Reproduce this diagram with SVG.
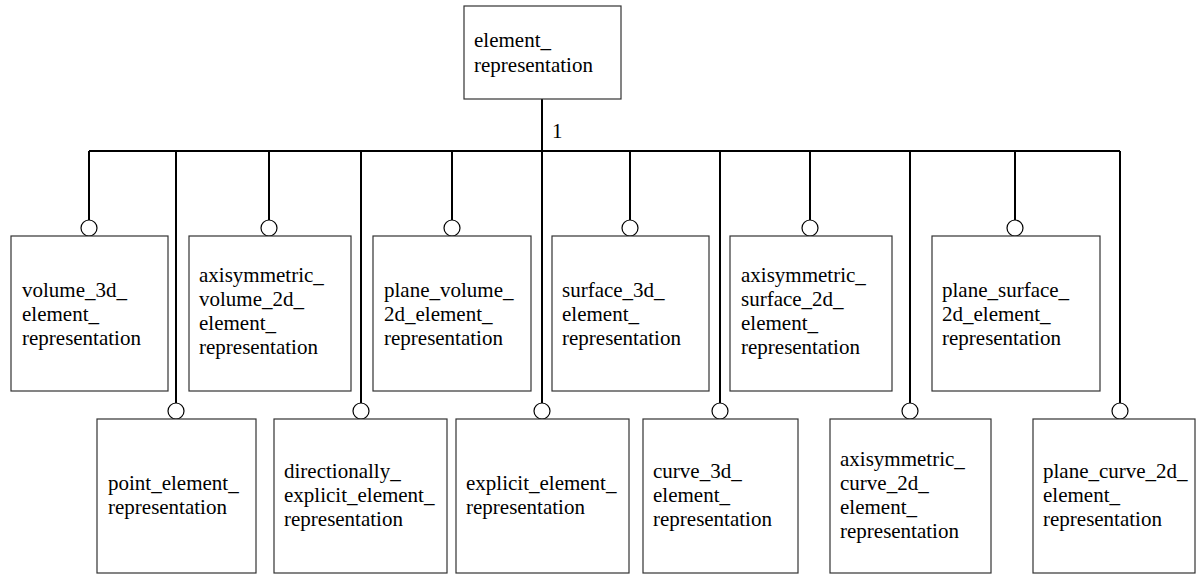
<svg xmlns="http://www.w3.org/2000/svg" width="1203" height="574" viewBox="0 0 1203 574">
  <style>
    .box { fill: #ffffff; stroke: #333333; stroke-width: 1.2; }
    .lbl { font-family: "Liberation Serif", "Times New Roman", serif; font-size: 21px; fill: #000000; }
    .wire { fill: none; stroke: #000000; stroke-width: 2; }
    .ring { fill: #ffffff; stroke: #000000; stroke-width: 1.2; }
  </style>
  <rect width="1203" height="574" fill="#ffffff"/>

  <!-- connectors: supertype bus and subtype drops -->
  <g id="connectors">
    <path class="wire" d="M542,99 V151 M89,151 H1120"/>
    <path class="wire" d="M89,151 V220 M269,151 V220 M452,151 V220 M630,151 V220 M810,151 V220 M1015,151 V220"/>
    <path class="wire" d="M176,151 V403 M361,151 V403 M542,151 V403 M720,151 V403 M910,151 V403 M1120,151 V403"/>
    <circle class="ring" cx="89" cy="228" r="8"/>
    <circle class="ring" cx="269" cy="228" r="8"/>
    <circle class="ring" cx="452" cy="228" r="8"/>
    <circle class="ring" cx="630" cy="228" r="8"/>
    <circle class="ring" cx="810" cy="228" r="8"/>
    <circle class="ring" cx="1015" cy="228" r="8"/>
    <circle class="ring" cx="176" cy="411" r="8"/>
    <circle class="ring" cx="361" cy="411" r="8"/>
    <circle class="ring" cx="542" cy="411" r="8"/>
    <circle class="ring" cx="720" cy="411" r="8"/>
    <circle class="ring" cx="910" cy="411" r="8"/>
    <circle class="ring" cx="1120" cy="411" r="8"/>
    <text class="lbl" x="552" y="138">1</text>
  </g>

  <g id="element_representation">
    <rect class="box" x="464" y="6" width="157" height="93"/>
    <text class="lbl" x="474" y="47">element_</text>
    <text class="lbl" x="474" y="72">representation</text>
  </g>

  <!-- upper row -->
  <g id="volume_3d_element_representation">
    <rect class="box" x="11" y="236" width="157" height="155"/>
    <text class="lbl" x="22" y="297">volume_3d_</text>
    <text class="lbl" x="22" y="321">element_</text>
    <text class="lbl" x="22" y="345">representation</text>
  </g>
  <g id="axisymmetric_volume_2d_element_representation">
    <rect class="box" x="189" y="236" width="162" height="155"/>
    <text class="lbl" x="199" y="282">axisymmetric_</text>
    <text class="lbl" x="199" y="306">volume_2d_</text>
    <text class="lbl" x="199" y="330">element_</text>
    <text class="lbl" x="199" y="354">representation</text>
  </g>
  <g id="plane_volume_2d_element_representation">
    <rect class="box" x="373" y="236" width="158" height="155"/>
    <text class="lbl" x="384" y="297">plane_volume_</text>
    <text class="lbl" x="384" y="321">2d_element_</text>
    <text class="lbl" x="384" y="345">representation</text>
  </g>
  <g id="surface_3d_element_representation">
    <rect class="box" x="552" y="236" width="157" height="155"/>
    <text class="lbl" x="562" y="297">surface_3d_</text>
    <text class="lbl" x="562" y="321">element_</text>
    <text class="lbl" x="562" y="345">representation</text>
  </g>
  <g id="axisymmetric_surface_2d_element_representation">
    <rect class="box" x="730" y="236" width="162" height="155"/>
    <text class="lbl" x="741" y="282">axisymmetric_</text>
    <text class="lbl" x="741" y="306">surface_2d_</text>
    <text class="lbl" x="741" y="330">element_</text>
    <text class="lbl" x="741" y="354">representation</text>
  </g>
  <g id="plane_surface_2d_element_representation">
    <rect class="box" x="932" y="236" width="168" height="155"/>
    <text class="lbl" x="942" y="297">plane_surface_</text>
    <text class="lbl" x="942" y="321">2d_element_</text>
    <text class="lbl" x="942" y="345">representation</text>
  </g>

  <!-- lower row -->
  <g id="point_element_representation">
    <rect class="box" x="97" y="419" width="159" height="154"/>
    <text class="lbl" x="108" y="490">point_element_</text>
    <text class="lbl" x="108" y="514">representation</text>
  </g>
  <g id="directionally_explicit_element_representation">
    <rect class="box" x="274" y="419" width="173" height="154"/>
    <text class="lbl" x="284" y="478">directionally_</text>
    <text class="lbl" x="284" y="502">explicit_element_</text>
    <text class="lbl" x="284" y="526">representation</text>
  </g>
  <g id="explicit_element_representation">
    <rect class="box" x="456" y="419" width="173" height="154"/>
    <text class="lbl" x="466" y="490">explicit_element_</text>
    <text class="lbl" x="466" y="514">representation</text>
  </g>
  <g id="curve_3d_element_representation">
    <rect class="box" x="643" y="419" width="155" height="154"/>
    <text class="lbl" x="653" y="478">curve_3d_</text>
    <text class="lbl" x="653" y="502">element_</text>
    <text class="lbl" x="653" y="526">representation</text>
  </g>
  <g id="axisymmetric_curve_2d_element_representation">
    <rect class="box" x="830" y="419" width="161" height="154"/>
    <text class="lbl" x="840" y="466">axisymmetric_</text>
    <text class="lbl" x="840" y="490">curve_2d_</text>
    <text class="lbl" x="840" y="514">element_</text>
    <text class="lbl" x="840" y="538">representation</text>
  </g>
  <g id="plane_curve_2d_element_representation">
    <rect class="box" x="1033" y="419" width="162" height="154"/>
    <text class="lbl" x="1043" y="478">plane_curve_2d_</text>
    <text class="lbl" x="1043" y="502">element_</text>
    <text class="lbl" x="1043" y="526">representation</text>
  </g>
</svg>
